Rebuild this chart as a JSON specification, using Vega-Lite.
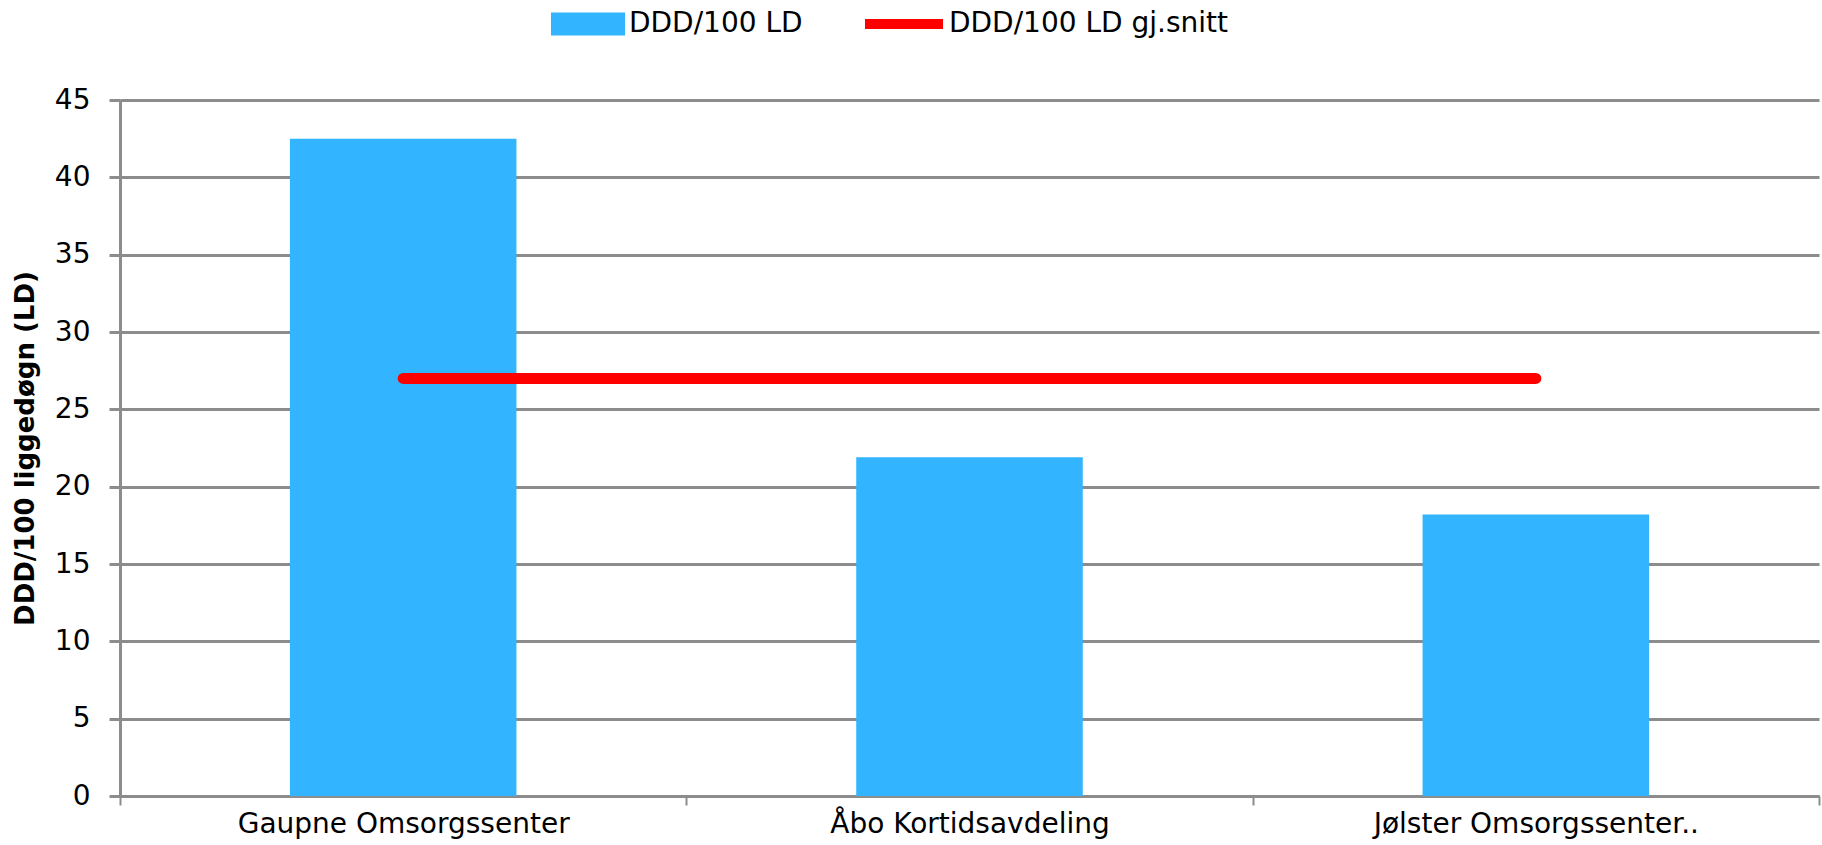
{
  "$schema": "https://vega.github.io/schema/vega-lite/v6.json",
  "autosize": {"type": "none"},
  "width": 1699,
  "height": 696,
  "padding": {"left": 120, "top": 100, "right": 3, "bottom": 49},
  "background": "white",
  "config": {
    "view": {"stroke": null},
    "font": "DejaVu Sans",
    "legend": {"padding": 0}
  },
  "data": {
    "values": [
      {"avdeling": "Gaupne Omsorgssenter", "ddd": 42.5, "snitt": 27.0},
      {"avdeling": "Åbo Kortidsavdeling", "ddd": 21.9, "snitt": 27.0},
      {"avdeling": "Jølster Omsorgssenter..", "ddd": 18.2, "snitt": 27.0}
    ]
  },
  "encoding": {
    "x": {
      "field": "avdeling",
      "type": "nominal",
      "sort": null,
      "scale": {"paddingInner": 0, "paddingOuter": 0},
      "axis": {
        "title": null,
        "labelAngle": 0,
        "labelFont": "DejaVu Sans",
        "labelFontSize": 28,
        "labelColor": "#000000",
        "labelPadding": 5,
        "labelLimit": 0,
        "tickBand": "extent",
        "tickColor": "#8c8c8c",
        "tickWidth": 2,
        "tickSize": 9,
        "domainColor": "#8c8c8c",
        "domainWidth": 3,
        "grid": false
      }
    }
  },
  "layer": [
    {
      "mark": {"type": "bar", "width": {"band": 0.4}},
      "encoding": {
        "y": {
          "field": "ddd",
          "type": "quantitative",
          "scale": {"domain": [0, 45], "nice": false},
          "axis": {
            "title": "DDD/100 liggedøgn (LD)",
            "titleFont": "DejaVu Sans",
            "titleFontSize": 26,
            "titleFontWeight": "bold",
            "titleColor": "#000000",
            "titleAngle": -90,
            "titleX": -95,
            "titleY": 348,
            "titleAlign": "center",
            "titleBaseline": "middle",
            "titleLimit": 0,
            "values": [0, 5, 10, 15, 20, 25, 30, 35, 40, 45],
            "labelFont": "DejaVu Sans",
            "labelFontSize": 28,
            "labelColor": "#000000",
            "labelPadding": 19,
            "tickSize": 11,
            "tickColor": "#8c8c8c",
            "tickWidth": 3,
            "grid": true,
            "gridColor": "#8c8c8c",
            "gridWidth": 3,
            "domainColor": "#8c8c8c",
            "domainWidth": 3
          }
        },
        "fill": {
          "datum": "DDD/100 LD",
          "type": "nominal",
          "scale": {"domain": ["DDD/100 LD"], "range": ["#33b4ff"]},
          "legend": {
            "title": null,
            "orient": "none",
            "legendX": 431,
            "legendY": -113,
            "symbolType": "M-1,-0.31H1V0.31H-1Z",
            "symbolSize": 5476,
            "symbolStrokeWidth": 0,
            "labelFont": "DejaVu Sans",
            "labelFontSize": 28,
            "labelColor": "#000000",
            "labelOffset": 4,
            "labelLimit": 0
          }
        }
      }
    },
    {
      "mark": {"type": "line", "strokeWidth": 11, "strokeCap": "round"},
      "encoding": {
        "y": {"field": "snitt", "type": "quantitative"},
        "stroke": {
          "datum": "DDD/100 LD gj.snitt",
          "type": "nominal",
          "scale": {"domain": ["DDD/100 LD gj.snitt"], "range": ["#ff0000"]},
          "legend": {
            "title": null,
            "orient": "none",
            "legendX": 740,
            "legendY": -120,
            "symbolType": "stroke",
            "symbolSize": 6084,
            "symbolStrokeWidth": 10,
            "labelFont": "DejaVu Sans",
            "labelFontSize": 28,
            "labelColor": "#000000",
            "labelOffset": 1,
            "labelLimit": 0
          }
        }
      }
    }
  ]
}
